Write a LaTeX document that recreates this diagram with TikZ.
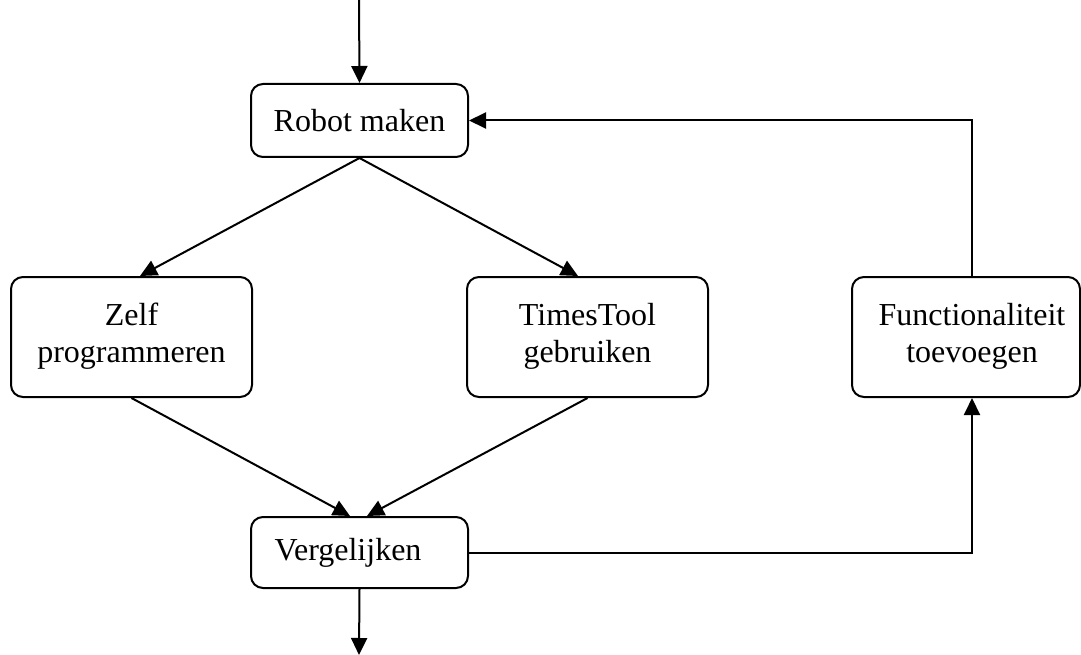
\documentclass[tikz,border=0pt]{standalone}
\usepackage{fontspec}
\setmainfont{Liberation Serif}
\usetikzlibrary{arrows.meta,calc}
\tikzset{
  box/.style={draw, line width=2pt, rounded corners=12pt, inner sep=0pt,
    align=center, font=\fontsize{32}{37}\selectfont},
  arr/.style={line width=2pt, -{Triangle[length=17pt,width=16pt]}}
}
\begin{document}
\begin{tikzpicture}[x=1pt,y=-1pt]
  \useasboundingbox (0,0) rectangle (1081,655);

  % process steps
  \node[box, minimum width=217pt, minimum height=73pt] (robot) at (359.5,120.5) {Robot maken};
  \node[box, minimum width=241pt, minimum height=120pt] (zelf) at (131.5,337) {Zelf\\programmeren\\[-29pt]};
  \node[box, minimum width=241pt, minimum height=120pt] (times) at (587.5,337) {TimesTool\\gebruiken\\[-29pt]};
  \node[box, minimum width=228pt, minimum height=120pt] (func) at (966,337)
    {\hspace*{12pt}Functionaliteit\\\hspace*{12pt}toevoegen\\[-29pt]};
  \node[box, minimum height=71pt, text width=170pt, inner xsep=23.5pt, align=left] (verg) at (359.5,552.5) {Vergelijken};

  % entry and exit points
  \coordinate (start) at (359,0);
  \coordinate (stop) at (359,655);

  % flow
  \draw[arr] (start) -- (robot.north);
  \draw[arr] (robot.south) -- ($(zelf.north)+(8.5,0)$);
  \draw[arr] (robot.south) -- ($(times.north)+(-9.5,0)$);
  \draw[arr] (zelf.south) -- ($(verg.north)+(-9.5,0)$);
  \draw[arr] (times.south) -- ($(verg.north)+(7.5,0)$);
  \draw[arr] (verg.south) -- (stop);

  % feedback loop
  \draw[arr] (verg.east) -| ($(func.south)+(6,0)$);
  \draw[arr] ($(func.north)+(6,0)$) |- (robot.east);
\end{tikzpicture}
\end{document}
